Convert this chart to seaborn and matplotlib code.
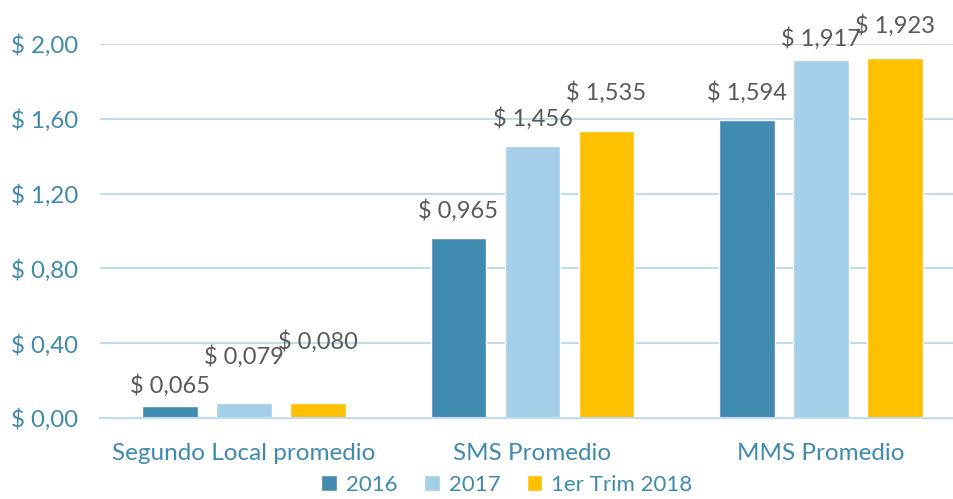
"""
Costo promedio por mensaje: Segundo Local, SMS y MMS.
"""
import pandas as pd
import seaborn as sns
import matplotlib.pyplot as plt
from matplotlib.patches import Patch

categorias = ["Segundo Local promedio", "SMS Promedio", "MMS Promedio"]
periodos = ["2016", "2017", "1er Trim 2018"]
valores_2016 = [0.065, 0.965, 1.594]
valores_2017 = [0.079, 1.456, 1.917]
valores_2018 = [0.080, 1.535, 1.923]
# separacion de las etiquetas sobre cada barra (pixeles), como en el original
desplaz_etiquetas = {"2016": [20, 27, 27], "2017": [47, 27, 21], "1er Trim 2018": [62, 38, 33]}

colores = ["#418AB0", "#A5CFE8", "#FFC000"]
azul_texto = "#3F8AAD"
azul_linea = "#BFDDEC"

filas = []
for periodo, vals in zip(periodos, [valores_2016, valores_2017, valores_2018]):
    for cat, v in zip(categorias, vals):
        filas.append({"categoria": cat, "periodo": periodo, "valor": v})
tabla = pd.DataFrame(filas)

sns.set_style("white")
plt.rcParams["font.family"] = ["Lato", "DejaVu Sans"]

fig = plt.figure(figsize=(9.54, 4.99), dpi=100)
ax = fig.add_axes([100 / 954, 81 / 499, 865 / 954, 374 / 499])

sns.barplot(data=tabla, x="categoria", y="valor", hue="periodo", order=categorias,
            hue_order=periodos, palette=colores, width=0.77, gap=0.245,
            saturation=1, legend=False, ax=ax)

ax.set_ylim(0, 2.0)
ax.set_xlim(-0.5, 2.5)
ax.set_yticks([0, 0.4, 0.8, 1.2, 1.6, 2.0])
ax.set_yticklabels([f"$ {t:.2f}".replace(".", ",") for t in ax.get_yticks()],
                   color=azul_texto, fontsize=17.3)
ax.tick_params(axis="y", length=0, pad=16)
ax.tick_params(axis="x", which="major", length=0, pad=18, labelsize=17.5, labelcolor=azul_texto)
ax.set_xticks([-0.5, 0.5, 1.5, 2.5], minor=True)
ax.tick_params(axis="x", which="minor", length=10, color=azul_linea, width=1.5)
ax.grid(axis="y", color=azul_linea, linewidth=1.5)
ax.set_axisbelow(True)
for lado in ["top", "right", "left"]:
    ax.spines[lado].set_visible(False)
ax.spines["bottom"].set_color(azul_linea)
ax.spines["bottom"].set_linewidth(1.5)
ax.set_xlabel("")
ax.set_ylabel("")

for contenedor, periodo in zip(ax.containers, periodos):
    for barra, desp in zip(contenedor, desplaz_etiquetas[periodo]):
        v = barra.get_height()
        ax.annotate(f"$ {v:.3f}".replace(".", ","),
                    (barra.get_x() + barra.get_width() / 2, v),
                    xytext=(0, desp), textcoords="offset pixels",
                    ha="center", va="center", fontsize=17, color="#595959",
                    annotation_clip=False)

manijas = [Patch(facecolor=c, label=p) for c, p in zip(colores, periodos)]
fig.legend(handles=manijas, loc="center", bbox_to_anchor=(507 / 954, 14 / 499),
           ncol=3, frameon=False, fontsize=16, labelcolor=azul_texto,
           handlelength=0.7, handleheight=0.7, handletextpad=0.4, columnspacing=1.2)

fig.savefig("out.png", dpi=100)
